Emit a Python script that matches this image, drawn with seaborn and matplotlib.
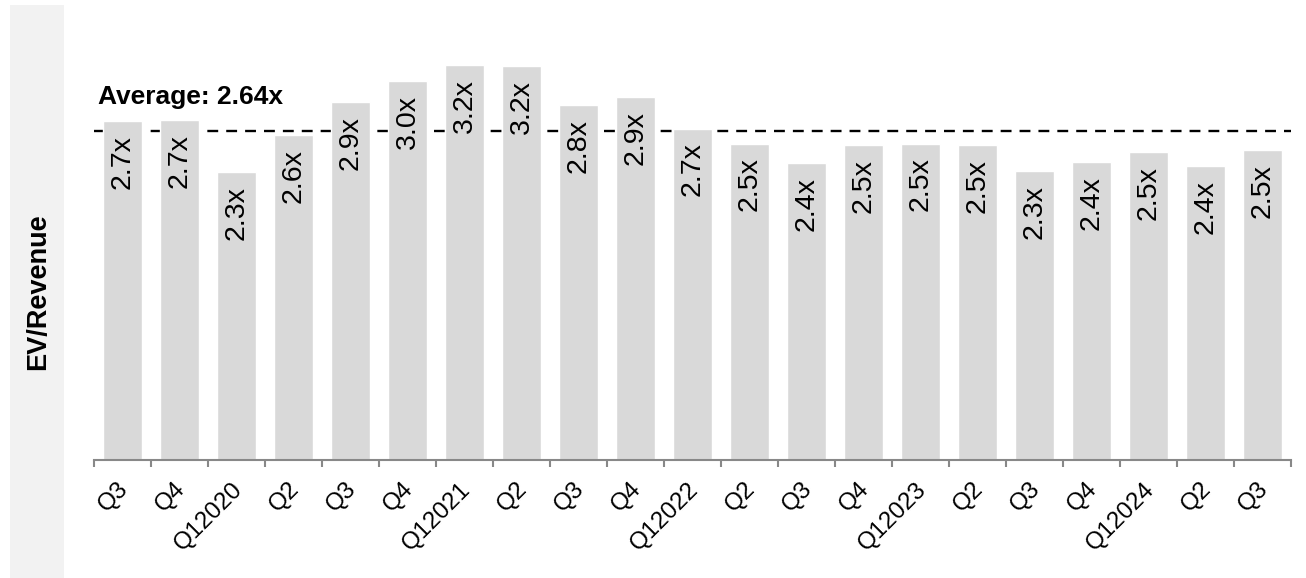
import matplotlib
matplotlib.use("Agg")
import matplotlib.pyplot as plt
import matplotlib.transforms as mtransforms
import seaborn as sns
import pandas as pd
import numpy as np
from matplotlib.patches import Rectangle
from matplotlib.ticker import FixedLocator

quarters = ["Q3", "Q4", "Q12020", "Q2", "Q3", "Q4", "Q12021", "Q2", "Q3", "Q4",
            "Q12022", "Q2", "Q3", "Q4", "Q12023", "Q2", "Q3", "Q4", "Q12024", "Q2", "Q3"]
values = [2.72, 2.73, 2.31, 2.61, 2.87, 3.04, 3.17, 3.16, 2.85, 2.91,
          2.66, 2.54, 2.38, 2.53, 2.54, 2.53, 2.32, 2.39, 2.47, 2.36, 2.49]
labels = ["2.7x", "2.7x", "2.3x", "2.6x", "2.9x", "3.0x", "3.2x", "3.2x", "2.8x", "2.9x",
          "2.7x", "2.5x", "2.4x", "2.5x", "2.5x", "2.5x", "2.3x", "2.4x", "2.5x", "2.4x", "2.5x"]
average = 2.64
average_label = "Average: 2.64x"
y_label = "EV/Revenue"

sns.set_style("white")
plt.rcParams['font.family'] = ['Liberation Sans', 'DejaVu Sans']
plt.rcParams['text.color'] = 'black'
plt.rcParams['xtick.color'] = 'black'
plt.rcParams['xtick.labelcolor'] = 'black'

W, H = 1306, 578
fig = plt.figure(figsize=(W / 100, H / 100), dpi=100)

# left grey panel
fig.patches.append(Rectangle((10 / W, 0), 54 / W, 1 - 5 / H, transform=fig.transFigure,
                             facecolor="#f2f2f2", edgecolor="none", zorder=0))
fig.text(38 / W, 1 - 292 / H, y_label, rotation=90, ha="center", va="center",
         fontsize=19.5, fontweight="bold", color="black")

ax_left, ax_right = 94 / W, 1291 / W
ax_bottom, ax_top = 1 - 460 / H, 1 - 20 / H
ax = fig.add_axes([ax_left, ax_bottom, ax_right - ax_left, ax_top - ax_bottom])
ax.patch.set_alpha(0)

df = pd.DataFrame({"idx": [str(i) for i in range(len(quarters))], "value": values})
sns.barplot(data=df, x="idx", y="value", color="#d9d9d9", width=0.67, saturation=1,
            ax=ax, zorder=2)

n = len(quarters)
ax.set_xlim(-0.5, n - 0.5)
ax.set_ylim(0, 440 / 124.6)

ax.axhline(average, color="black", lw=1.7, dashes=(4.6, 3.4), zorder=1)
ax.text(-0.43, average + 0.27, average_label, fontsize=19, fontweight="bold",
        ha="left", va="center", color="black")

for i, (v, lab) in enumerate(zip(values, labels)):
    ax.annotate(lab, (i, v), xytext=(0, -14), textcoords="offset pixels",
                rotation=90, ha="center", va="top", fontsize=20.5, zorder=4, color="black")

for s in ["top", "right", "left"]:
    ax.spines[s].set_visible(False)
ax.spines["bottom"].set_color("#888888")
ax.spines["bottom"].set_linewidth(1.5)

ax.set_yticks([])
ax.set_xlabel("")
ax.set_ylabel("")
ax.set_xticks(range(n))
ax.set_xticklabels(quarters, rotation=45, ha="right", rotation_mode="anchor", fontsize=17.5,
                   color="black")
ax.tick_params(axis="x", which="major", bottom=True, length=0, pad=13)
ax.xaxis.set_minor_locator(FixedLocator(np.arange(-0.5, n, 1.0)))
ax.tick_params(axis="x", which="minor", bottom=True, length=5, color="#888888",
               width=1.5, direction="out")
offset = mtransforms.ScaledTranslation(-5 / 100, 0, fig.dpi_scale_trans)
for t in ax.get_xticklabels():
    t.set_transform(t.get_transform() + offset)

fig.savefig("out.png", dpi=100)
